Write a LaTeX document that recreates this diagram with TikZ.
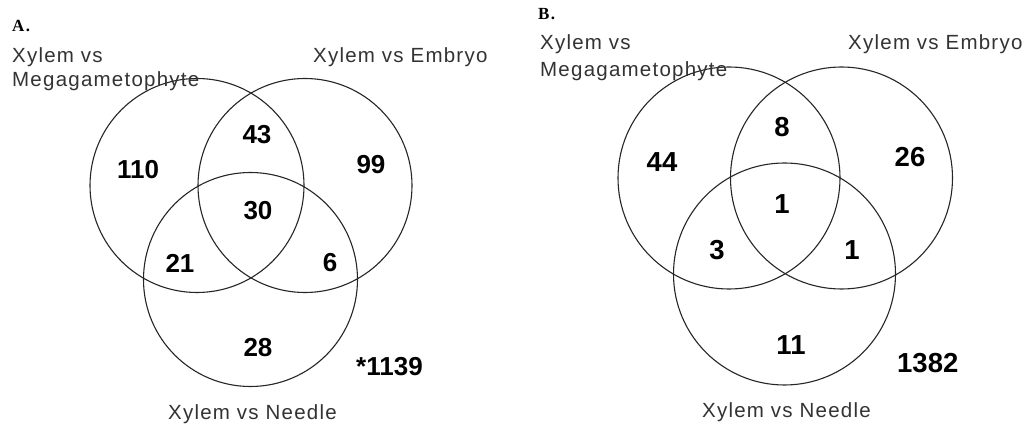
\documentclass[tikz,border=0pt]{standalone}
\usepackage{fontspec}
\setmainfont{Liberation Sans}
\newfontfamily\labfont[LetterSpace=6]{Liberation Sans}
\newfontfamily\panelfont[LetterSpace=8]{Liberation Serif}
\begin{document}
\begin{tikzpicture}[x=1pt,y=-1pt,
  venn/.style={circle, draw=black!85, line width=1.1pt, inner sep=0pt},
  lab/.style={anchor=base west, inner sep=0pt, text=black!80, font=\labfont\fontsize{20.5}{24}\selectfont},
  num/.style={inner sep=0pt, font=\bfseries\fontsize{26}{30}\selectfont},
  numb/.style={inner sep=0pt, font=\bfseries\fontsize{27.5}{30}\selectfont},
  panel/.style={anchor=base west, inner sep=0pt, font=\panelfont\bfseries\fontsize{17}{20}\selectfont}]
\path[use as bounding box, fill=white] (0,0) rectangle (1034,427);
% ---------- Panel A ----------
\node[panel] (pA) at (12,32) {A.};
\node[venn, minimum size=214pt] (aM) at (197,185.5) {};
\node[venn, minimum size=214pt] (aE) at (305,185.5) {};
\node[venn, minimum size=214pt] (aN) at (250.5,279.5) {};
\node[lab] (aML1) at (12,63) {Xylem vs};
\node[lab] (aML2) at (12,87) {Megagametophyte};
\node[lab] (aEL) at (313,63) {Xylem vs Embryo};
\node[lab] (aNL) at (168,420) {Xylem vs Needle};
\node[num] (a110) at (138,170) {110};
\node[num] (a43) at (257,135) {43};
\node[num] (a99) at (371,165) {99};
\node[num] (a30) at (258,211) {30};
\node[num] (a21) at (180,263) {21};
\node[num] (a6) at (330,263) {6};
\node[num] (a28) at (258,348) {28};
\node[num, anchor=west] (a1139) at (356,367) {*1139};
% ---------- Panel B ----------
\node[panel] (pB) at (538,20) {B.};
\node[venn, minimum size=222pt] (bM) at (729,178) {};
\node[venn, minimum size=222pt] (bE) at (841.5,178) {};
\node[venn, minimum size=222pt] (bN) at (784.5,274) {};
\node[lab] (bML1) at (540,50) {Xylem vs};
\node[lab] (bML2) at (540,77) {Megagametophyte};
\node[lab] (bEL) at (848,50) {Xylem vs Embryo};
\node[lab] (bNL) at (702,418) {Xylem vs Needle};
\node[numb] (b44) at (662,162) {44};
\node[numb] (b8) at (782,127) {8};
\node[numb] (b26) at (910,157) {26};
\node[numb] (b1c) at (782,204) {1};
\node[numb] (b3) at (717,250) {3};
\node[numb] (b1r) at (852,250) {1};
\node[numb] (b11) at (791,345) {11};
\node[numb, anchor=west] (b1382) at (897,363) {1382};
\end{tikzpicture}
\end{document}
